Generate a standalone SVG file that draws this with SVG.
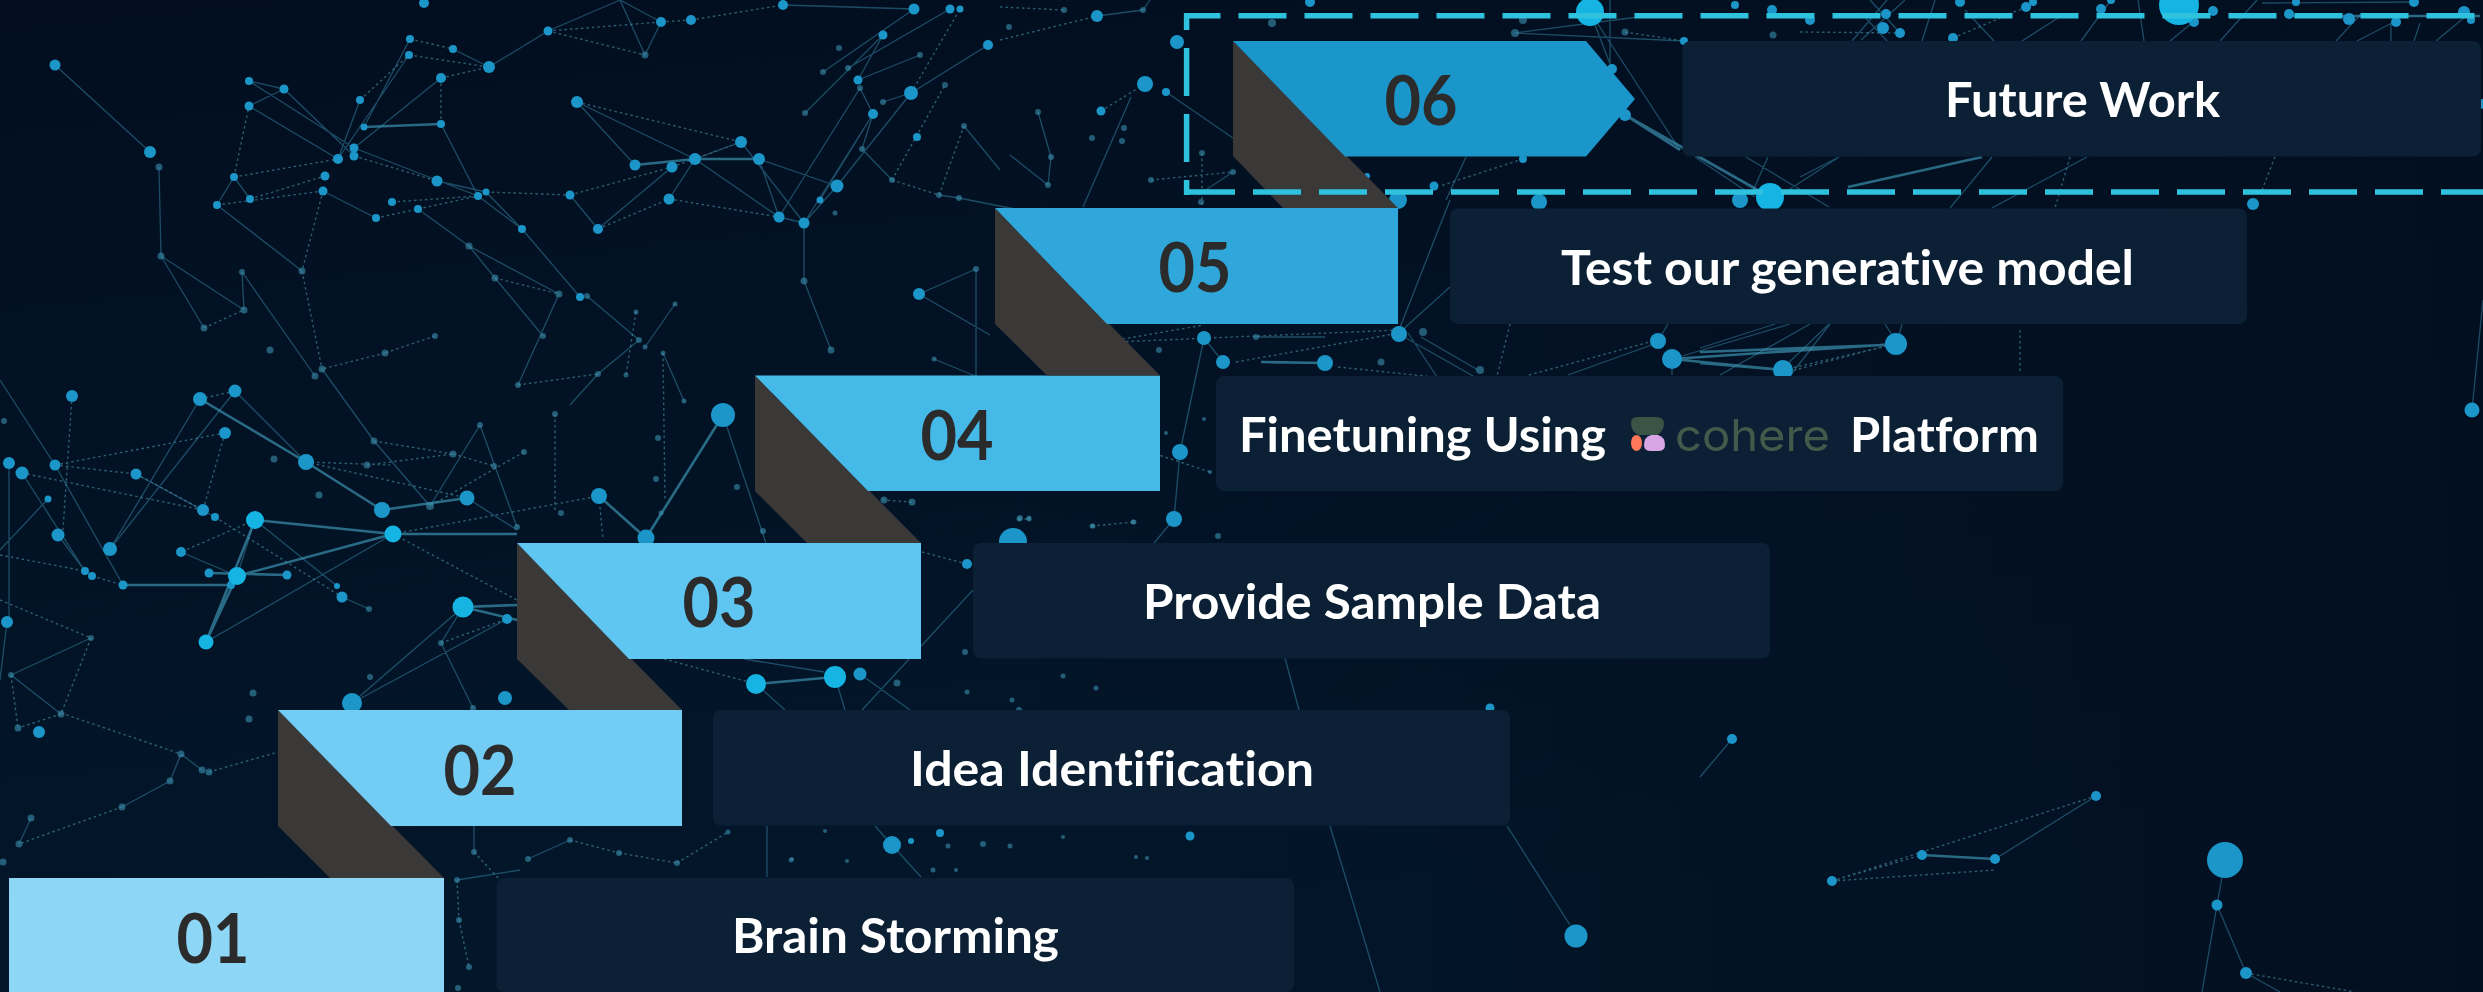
<svg xmlns="http://www.w3.org/2000/svg" width="2483" height="992" viewBox="0 0 2483 992">
<style>
.s{fill:none;stroke:#2f7593;stroke-width:1.3;opacity:.6}
.d{fill:none;stroke:#4f9db4;stroke-width:1.4;stroke-dasharray:2.5 3;opacity:.55}
.t{fill:none;stroke:#3f9ab8;stroke-width:2.6;opacity:.65}
.a circle{fill:#1a96c8}
.f circle{fill:#3c8fae;opacity:.6}
.b circle{fill:#12b4e2}
.fold{fill:#3b3838}
.box{fill:#0b2035}
.num{font:700 69px Lato,"Liberation Sans",sans-serif;fill:#2b2b2b;text-anchor:middle;font-variant-ligatures:none}
.lab{font:700 47px Lato,"Liberation Sans",sans-serif;fill:#fff;font-variant-ligatures:none}
.frame{fill:none;stroke:#2fc2de;stroke-width:5.5;stroke-dasharray:48 18}
</style>
<defs>
<linearGradient id="bg" x1="0" y1="0" x2="0.25" y2="1"><stop offset="0" stop-color="#020e20"/><stop offset="1" stop-color="#03172b"/></linearGradient>
<linearGradient id="bg2" x1="0" y1="0" x2="1" y2="0"><stop offset="0" stop-color="#020f21" stop-opacity="0"/><stop offset="1" stop-color="#020f20"/></linearGradient>
<filter id="soft" x="0" y="0" width="1" height="1"><feGaussianBlur stdDeviation="0.7"/></filter>
</defs>
<rect width="2483" height="992" fill="url(#bg)"/>
<rect x="1000" width="1483" height="992" fill="url(#bg2)"/>

<g id="connectors" filter="url(#soft)">
<path class="s" d="M55,65L150,152M159,167L161,256M161,256L204,328M161,256L244,310M242,272L244,310M242,272L315,376M217,205L302,271M250,199L234,177M234,177L217,205M249,106L284,89M249,81L284,89M249,81L354,148M249,106L338,159M284,89L354,156M338,159L360,100M338,159L409,55M354,148L441,78M364,127L410,39M453,49L489,67M489,67L548,31M661,22L645,55M548,31L620,0M620,0L661,22M620,0L645,55M783,5L914,9M441,124L478,196M354,148L478,196M323,191L376,218M418,209L469,246M437,181L486,192M478,196L522,229M486,192L522,229M522,229L580,297M469,246L559,294M469,246L495,278M495,278L543,336M559,294L518,385M587,296L639,340M322,369L374,441M570,195L598,229M598,229L672,167M669,199L695,159M577,102L635,165M577,102L695,159M695,159L779,217M779,217L804,223M759,159L779,217M759,159L837,186M741,142L804,223M804,223L804,281M804,281L831,350M804,223L873,114M779,217L860,88M820,200L873,114M837,186L911,93M804,223L837,186M805,113L883,35M823,72L914,9M848,68L950,9M858,80L883,35M858,80L920,55M860,88L873,114M883,102L911,93M911,93L988,45M862,149L892,180M862,149L873,114M964,126L1000,170M939,195L959,198M959,198L1020,210M919,294L976,269M919,294L990,335M976,269L976,380M934,359L985,380M639,340L598,374M675,304L645,347M598,374L570,405M663,353L684,401M0,380L55,465M235,391L306,462M200,399L110,549M235,391L110,549M374,441L430,506M480,425L430,506M480,425L517,527M723,415L775,570M467,498L517,530M393,534L206,642M255,520L237,576M181,552L237,576M136,474L215,517M22,473L85,571M55,465L123,585M58,535L85,571M9,463L9,620M48,499L0,550M342,597L369,609M255,520L337,586M7,622L0,680M91,638L11,675M11,675L61,714M352,703L463,607M352,703L507,619M463,607L441,643M441,643L473,708M181,754L202,770M181,754L170,781M170,781L122,807M31,818L19,844M528,859L570,840M474,826L474,852M457,880L520,870M767,826L767,877M744,659L824,672M860,674L910,710M756,684L785,710M835,677L845,710M862,710L973,590M1285,658L1299,710M1330,826L1380,992M1507,826L1570,925M875,826L892,845M892,845L921,877M1732,739L1700,777M2096,796L1995,859M2217,905L2202,992M2225,860L2217,905M2217,905L2246,973M2246,973L2280,992M2483,300L2472,410M1590,12L1612,69M1610,0L1610,69M1590,12L1680,150M1684,41L1515,33M1466,157L1446,200M1450,200L1399,330M1399,334L1480,380M1695,157L1755,197M1768,157L1752,193M1839,157L1784,193M1746,157L1829,207M1992,157L1950,208M2087,157L1992,208M1839,157L1800,177M1830,324L1790,376M1885,324L1897,343M1902,324L1897,343M1700,348L1775,324M1672,359L1790,324M1568,375L1657,343M1720,375L1810,324M1781,370L1829,324M1658,341L1668,324M1672,359L1672,375M1255,337L1325,337M1408,333L1437,377M1421,337L1478,370M1450,287L1399,333M1131,97L1083,207M1166,92L1233,138M1038,112L1051,157M1051,157L1048,185M1048,185L1010,155M1233,172L1198,195M1097,16L1143,10M1143,10L1150,0M1515,33L1638,17M1861,40L1905,0M1900,33L1870,0M1852,41L1887,0M1887,41L1861,13M1922,41L1935,0M1994,41L1965,10M2022,41L2061,16M2081,41L2111,0M2144,41L2138,0M2170,41L2192,23M2220,41L2257,0M2262,3L2414,2M2336,41L2362,13M2357,41L2392,23M2391,41L2391,23M2414,41L2420,23M2436,41L2466,16M1223,362L1204,338M1180,452L1174,519M1180,452L1204,338M1174,519L1140,560"/>
<path class="d" d="M204,328L244,310M217,205L323,191M250,199L325,176M234,177L338,159M234,177L249,106M323,191L302,271M302,271L322,369M360,100L409,55M409,55L489,67M410,39L453,49M441,78L441,124M441,78L489,67M548,31L661,22M548,31L645,55M661,22L691,20M691,20L783,5M354,156L437,181M376,218L418,209M392,202L478,196M418,209L478,196M486,192L570,195M495,278L559,294M435,336L385,353M385,353L322,369M570,195L672,167M598,229L669,199M577,102L741,142M695,159L741,142M672,167L741,142M669,199L779,217M911,93L960,9M892,180L945,85M892,180L939,195M939,195L964,126M636,312L626,375M518,385L598,374M663,353L665,500M555,414L555,510M72,396L63,530M200,399L235,391M225,433L203,510M225,433L55,465M306,462L467,498M306,462L390,465M374,441L453,454M367,465L453,454M453,454L494,466M524,452L430,506M393,534L599,496M599,496L603,540M393,534L517,600M255,520L181,552M136,474L203,510M55,465L136,474M22,473L203,510M92,576L123,585M215,517L342,597M0,600L91,638M91,638L61,714M11,675L18,728M61,714L18,728M0,555L85,571M441,643L507,619M61,713L181,754M122,807L19,844M209,772L278,752M474,852L500,880M570,840L619,853M619,853L677,863M677,863L728,832M457,880L459,920M459,920L469,967M664,659L756,684M922,552L967,564M882,500L912,502M1832,881L2096,796M1832,881L1922,855M1832,881L1995,870M2246,973L2355,992M1523,159L1440,186M1625,32L1684,41M2070,157L2055,208M2275,157L2262,190M1897,343L1795,370M2020,330L2020,373M1529,375L1657,340M1783,370L1896,344M1117,340L1204,325M1115,342L1399,330M1236,362L1399,333M1338,367L1434,377M1510,324L1497,376M1000,40L1097,16M1000,7L1064,10M1145,84L1101,111M1202,153L1202,205M1151,180L1233,172M1953,38L2026,7M1800,32L1900,33M1150,452L1210,472M1019,519L1029,519M1092,526L1134,522"/>
<path class="t" d="M364,127L441,124M635,165L695,159M695,159L759,159M200,399L306,462M306,462L382,510M382,510L467,498M255,520L393,534M393,534L517,534M599,496L646,538M646,538L723,415M393,534L237,576M209,573L287,575M123,585L231,585M237,576L206,642M255,520L206,642M463,607L517,605M463,607L517,620M756,684L835,677M1625,115L1770,197M1625,115L1680,150M1982,157L1848,187M1700,352L1885,345M1700,363L1785,370M1672,359L1896,344M1672,359L1783,370M1261,362L1325,363M1922,855L1995,859M2288,16L2480,16"/>
</g>

<g id="network-nodes" filter="url(#soft)">
<g class="f">
<circle cx="159" cy="167" r="3.5"/><circle cx="161" cy="256" r="3.5"/><circle cx="204" cy="328" r="3.5"/><circle cx="244" cy="310" r="3.5"/><circle cx="242" cy="272" r="3"/><circle cx="302" cy="271" r="3.5"/><circle cx="469" cy="246" r="3.5"/><circle cx="495" cy="278" r="3.5"/><circle cx="559" cy="294" r="3.5"/><circle cx="587" cy="296" r="3"/><circle cx="543" cy="336" r="3"/><circle cx="435" cy="336" r="3"/><circle cx="385" cy="353" r="3.5"/><circle cx="322" cy="369" r="3.5"/><circle cx="315" cy="376" r="3.5"/><circle cx="270" cy="350" r="3.5"/><circle cx="518" cy="385" r="3"/><circle cx="636" cy="312" r="2.5"/><circle cx="675" cy="304" r="2.5"/><circle cx="639" cy="340" r="3"/><circle cx="645" cy="347" r="2.5"/><circle cx="598" cy="374" r="3"/><circle cx="626" cy="375" r="2.5"/><circle cx="663" cy="353" r="2.5"/><circle cx="684" cy="401" r="2.5"/><circle cx="555" cy="414" r="3"/><circle cx="645" cy="55" r="3.5"/><circle cx="804" cy="281" r="3.5"/><circle cx="831" cy="350" r="3.5"/><circle cx="835" cy="213" r="2.5"/><circle cx="805" cy="113" r="3"/><circle cx="839" cy="48" r="3"/><circle cx="823" cy="72" r="3"/><circle cx="848" cy="68" r="3"/><circle cx="860" cy="88" r="3"/><circle cx="920" cy="55" r="3"/><circle cx="945" cy="85" r="3"/><circle cx="883" cy="102" r="3"/><circle cx="862" cy="149" r="3"/><circle cx="964" cy="126" r="3"/><circle cx="892" cy="180" r="3"/><circle cx="939" cy="195" r="3"/><circle cx="959" cy="198" r="3"/><circle cx="976" cy="269" r="3"/><circle cx="934" cy="359" r="2.5"/><circle cx="4" cy="421" r="3"/><circle cx="274" cy="459" r="3.5"/><circle cx="374" cy="441" r="3.5"/><circle cx="367" cy="465" r="3.5"/><circle cx="453" cy="454" r="3.5"/><circle cx="480" cy="425" r="3"/><circle cx="494" cy="466" r="3"/><circle cx="524" cy="452" r="3"/><circle cx="319" cy="495" r="3.5"/><circle cx="430" cy="506" r="4"/><circle cx="369" cy="609" r="3"/><circle cx="91" cy="638" r="3"/><circle cx="11" cy="675" r="3"/><circle cx="61" cy="714" r="3.5"/><circle cx="18" cy="728" r="3.5"/><circle cx="253" cy="693" r="3.5"/><circle cx="249" cy="719" r="3.5"/><circle cx="441" cy="643" r="3"/><circle cx="370" cy="677" r="3"/><circle cx="473" cy="708" r="3"/><circle cx="658" cy="438" r="3"/><circle cx="656" cy="479" r="3"/><circle cx="661" cy="513" r="2.5"/><circle cx="737" cy="487" r="3"/><circle cx="763" cy="531" r="3"/><circle cx="561" cy="513" r="3"/><circle cx="517" cy="527" r="3"/><circle cx="884" cy="500" r="3.5"/><circle cx="912" cy="502" r="3.5"/><circle cx="897" cy="683" r="3.5"/><circle cx="965" cy="652" r="3"/><circle cx="1020" cy="518" r="3"/><circle cx="1029" cy="518" r="2.5"/><circle cx="1093" cy="526" r="2.5"/><circle cx="1133" cy="522" r="2.5"/><circle cx="1063" cy="676" r="2.5"/><circle cx="1096" cy="688" r="2.5"/><circle cx="967" cy="692" r="2.5"/><circle cx="1012" cy="700" r="2.5"/><circle cx="1019" cy="710" r="3"/><circle cx="728" cy="832" r="2.5"/><circle cx="825" cy="831" r="2"/><circle cx="948" cy="846" r="2.5"/><circle cx="983" cy="844" r="3"/><circle cx="1010" cy="846" r="2.5"/><circle cx="1063" cy="837" r="2"/><circle cx="933" cy="870" r="2.5"/><circle cx="956" cy="870" r="2"/><circle cx="792" cy="859" r="2"/><circle cx="847" cy="861" r="2"/><circle cx="1136" cy="857" r="2"/><circle cx="1147" cy="858" r="2"/><circle cx="181" cy="754" r="3.5"/><circle cx="202" cy="770" r="3.5"/><circle cx="209" cy="772" r="3.5"/><circle cx="170" cy="781" r="3.5"/><circle cx="122" cy="807" r="3.5"/><circle cx="31" cy="818" r="3.5"/><circle cx="19" cy="844" r="3.5"/><circle cx="3" cy="862" r="3.5"/><circle cx="474" cy="852" r="3"/><circle cx="528" cy="859" r="3"/><circle cx="570" cy="840" r="3"/><circle cx="619" cy="853" r="3"/><circle cx="677" cy="863" r="3"/><circle cx="457" cy="880" r="3"/><circle cx="459" cy="920" r="3"/><circle cx="469" cy="967" r="3"/><circle cx="458" cy="988" r="3"/><circle cx="791" cy="860" r="2.5"/><circle cx="1064" cy="10" r="3"/><circle cx="1143" cy="10" r="3"/><circle cx="1009" cy="27" r="3"/><circle cx="1038" cy="112" r="3"/><circle cx="1124" cy="128" r="3"/><circle cx="1092" cy="138" r="3"/><circle cx="1122" cy="141" r="3"/><circle cx="1051" cy="157" r="3"/><circle cx="1048" cy="185" r="3"/><circle cx="1202" cy="153" r="3"/><circle cx="1233" cy="172" r="3"/><circle cx="1151" cy="180" r="3"/><circle cx="1201" cy="202" r="3"/><circle cx="1272" cy="23" r="4"/><circle cx="1523" cy="20" r="4"/><circle cx="1515" cy="33" r="4"/><circle cx="1625" cy="32" r="3.5"/><circle cx="1773" cy="35" r="3.5"/><circle cx="1256" cy="337" r="3"/><circle cx="1159" cy="350" r="3"/><circle cx="1381" cy="362" r="3.5"/><circle cx="1423" cy="332" r="4"/><circle cx="1480" cy="370" r="4"/><circle cx="1218" cy="536" r="3"/><circle cx="1210" cy="472" r="2"/><circle cx="1204" cy="419" r="2"/><circle cx="1166" cy="433" r="2"/><circle cx="1019" cy="519" r="2.5"/><circle cx="1029" cy="519" r="2.5"/><circle cx="1092" cy="526" r="2.5"/><circle cx="1134" cy="522" r="2.5"/>
</g>
<g class="a">
<circle cx="55" cy="65" r="5.5"/><circle cx="150" cy="152" r="6"/><circle cx="217" cy="205" r="4"/><circle cx="250" cy="199" r="4"/><circle cx="234" cy="177" r="4"/><circle cx="249" cy="106" r="4.5"/><circle cx="249" cy="81" r="4"/><circle cx="284" cy="89" r="4.5"/><circle cx="338" cy="159" r="5"/><circle cx="354" cy="148" r="4.5"/><circle cx="354" cy="156" r="4.5"/><circle cx="325" cy="176" r="4.5"/><circle cx="323" cy="191" r="4.5"/><circle cx="364" cy="127" r="3.5"/><circle cx="360" cy="100" r="4"/><circle cx="409" cy="55" r="4"/><circle cx="410" cy="39" r="4"/><circle cx="453" cy="49" r="4"/><circle cx="441" cy="78" r="5"/><circle cx="441" cy="124" r="4"/><circle cx="489" cy="67" r="6"/><circle cx="548" cy="31" r="4.5"/><circle cx="661" cy="22" r="5"/><circle cx="691" cy="20" r="5"/><circle cx="783" cy="5" r="5"/><circle cx="424" cy="3" r="5"/><circle cx="437" cy="181" r="5.5"/><circle cx="478" cy="196" r="4"/><circle cx="486" cy="192" r="3.5"/><circle cx="392" cy="202" r="4"/><circle cx="418" cy="209" r="4"/><circle cx="376" cy="218" r="4"/><circle cx="522" cy="229" r="4"/><circle cx="570" cy="195" r="4.5"/><circle cx="598" cy="229" r="5"/><circle cx="577" cy="102" r="6"/><circle cx="635" cy="165" r="5.5"/><circle cx="672" cy="167" r="5.5"/><circle cx="695" cy="159" r="6"/><circle cx="741" cy="142" r="6"/><circle cx="759" cy="159" r="6"/><circle cx="669" cy="199" r="5.5"/><circle cx="779" cy="217" r="5.5"/><circle cx="804" cy="223" r="5.5"/><circle cx="837" cy="186" r="6.5"/><circle cx="820" cy="200" r="3.5"/><circle cx="580" cy="297" r="4"/><circle cx="858" cy="80" r="4.5"/><circle cx="883" cy="35" r="4.5"/><circle cx="914" cy="9" r="5.5"/><circle cx="950" cy="9" r="4.5"/><circle cx="960" cy="9" r="3.5"/><circle cx="988" cy="45" r="5"/><circle cx="911" cy="93" r="7"/><circle cx="873" cy="114" r="5"/><circle cx="917" cy="137" r="4"/><circle cx="919" cy="294" r="6"/><circle cx="72" cy="396" r="6"/><circle cx="200" cy="399" r="7"/><circle cx="235" cy="391" r="6.5"/><circle cx="225" cy="433" r="6"/><circle cx="306" cy="462" r="8"/><circle cx="467" cy="498" r="7.5"/><circle cx="9" cy="463" r="6"/><circle cx="22" cy="473" r="6.5"/><circle cx="55" cy="465" r="5.5"/><circle cx="136" cy="474" r="5.5"/><circle cx="48" cy="499" r="3.5"/><circle cx="203" cy="510" r="6"/><circle cx="215" cy="517" r="4"/><circle cx="382" cy="510" r="8"/><circle cx="58" cy="535" r="6.5"/><circle cx="110" cy="549" r="7"/><circle cx="181" cy="552" r="5"/><circle cx="85" cy="571" r="4"/><circle cx="92" cy="576" r="4"/><circle cx="123" cy="585" r="4.5"/><circle cx="209" cy="573" r="4.5"/><circle cx="231" cy="585" r="4"/><circle cx="287" cy="575" r="4.5"/><circle cx="337" cy="586" r="3"/><circle cx="342" cy="597" r="5.5"/><circle cx="7" cy="622" r="6"/><circle cx="39" cy="732" r="6"/><circle cx="505" cy="698" r="7"/><circle cx="507" cy="619" r="5"/><circle cx="599" cy="496" r="8"/><circle cx="723" cy="415" r="12"/><circle cx="646" cy="538" r="8.5"/><circle cx="860" cy="674" r="6.5"/><circle cx="967" cy="564" r="5"/><circle cx="352" cy="703" r="10"/><circle cx="1490" cy="708" r="4.5"/><circle cx="1190" cy="836" r="4.5"/><circle cx="911" cy="841" r="3"/><circle cx="940" cy="833" r="4"/><circle cx="892" cy="845" r="9"/><circle cx="1576" cy="936" r="11.5"/><circle cx="1732" cy="739" r="5"/><circle cx="1832" cy="881" r="5"/><circle cx="1922" cy="855" r="5"/><circle cx="1995" cy="859" r="5"/><circle cx="2096" cy="796" r="5"/><circle cx="2225" cy="860" r="18"/><circle cx="2217" cy="905" r="5.5"/><circle cx="2246" cy="973" r="6"/><circle cx="2472" cy="410" r="7.5"/><circle cx="1097" cy="16" r="6"/><circle cx="1310" cy="2" r="5"/><circle cx="1177" cy="42" r="7"/><circle cx="1145" cy="84" r="8"/><circle cx="1166" cy="92" r="4"/><circle cx="1101" cy="111" r="4.5"/><circle cx="1367" cy="176" r="3"/><circle cx="1434" cy="186" r="4.5"/><circle cx="1398" cy="200" r="9"/><circle cx="1523" cy="159" r="4"/><circle cx="1539" cy="202" r="8"/><circle cx="1740" cy="200" r="8"/><circle cx="1612" cy="69" r="5"/><circle cx="1625" cy="115" r="6"/><circle cx="1684" cy="41" r="4"/><circle cx="1735" cy="5" r="4"/><circle cx="1810" cy="20" r="5"/><circle cx="1883" cy="28" r="6"/><circle cx="1900" cy="33" r="5"/><circle cx="1953" cy="38" r="5"/><circle cx="1886" cy="14" r="5"/><circle cx="1772" cy="10" r="5"/><circle cx="1960" cy="2" r="5"/><circle cx="2194" cy="22" r="5"/><circle cx="2213" cy="11" r="5"/><circle cx="2289" cy="14" r="5"/><circle cx="2296" cy="2" r="4"/><circle cx="2349" cy="19" r="6"/><circle cx="2396" cy="22" r="5"/><circle cx="2414" cy="2" r="5"/><circle cx="2464" cy="12" r="6"/><circle cx="2471" cy="20" r="4"/><circle cx="2481" cy="104" r="5"/><circle cx="2253" cy="204" r="6"/><circle cx="2026" cy="7" r="5"/><circle cx="2033" cy="2" r="4"/><circle cx="2101" cy="9" r="5"/><circle cx="2111" cy="0" r="4"/><circle cx="1204" cy="338" r="7"/><circle cx="1223" cy="362" r="7"/><circle cx="1325" cy="363" r="8"/><circle cx="1399" cy="334" r="8"/><circle cx="1658" cy="341" r="8"/><circle cx="1672" cy="359" r="10"/><circle cx="1783" cy="370" r="10"/><circle cx="1896" cy="344" r="11"/><circle cx="1180" cy="452" r="8"/><circle cx="1174" cy="519" r="8"/><circle cx="1013" cy="542" r="14"/>
</g>
<g class="b">
<circle cx="255" cy="520" r="9"/><circle cx="393" cy="534" r="8.5"/><circle cx="237" cy="576" r="9"/><circle cx="206" cy="642" r="7.5"/><circle cx="463" cy="607" r="10.5"/><circle cx="756" cy="684" r="10"/><circle cx="835" cy="677" r="11"/><circle cx="1770" cy="197" r="14"/><circle cx="1590" cy="12" r="14"/><circle cx="2179" cy="5" r="20"/>
</g>
</g>

<g id="step-01">
<rect class="box" x="496.500" y="878" width="797.500" height="114" rx="8"/>
<polygon points="9,878 444,878 444,992 9,992" fill="#8ed6f6"/>
<text class="num" x="213" y="962.500" textLength="73" lengthAdjust="spacingAndGlyphs">01</text>
<text class="lab" x="732" y="952.500" textLength="327" lengthAdjust="spacingAndGlyphs">Brain Storming</text>
</g>
<g id="step-02">
<rect class="box" x="713" y="710" width="797" height="115.500" rx="8"/>
<polygon class="fold" points="278,710 444,878 330,878 278,826"/>
<polygon points="278,710 682,710 682,826 391,826" fill="#72ccf3"/>
<text class="num" x="480" y="794.500" textLength="73" lengthAdjust="spacingAndGlyphs">02</text>
<text class="lab" x="910" y="785.500" textLength="404" lengthAdjust="spacingAndGlyphs">Idea Identification</text>
</g>
<g id="step-03">
<rect class="box" x="973" y="543" width="797" height="115.500" rx="8"/>
<polygon class="fold" points="517,543 682,710 569,710 517,659"/>
<polygon points="517,543 921,543 921,659 629,659" fill="#5fc6f2"/>
<text class="num" x="719" y="626.500" textLength="73" lengthAdjust="spacingAndGlyphs">03</text>
<text class="lab" x="1143" y="618.500" textLength="458" lengthAdjust="spacingAndGlyphs">Provide Sample Data</text>
</g>
<g id="step-04">
<rect class="box" x="1216" y="376" width="847" height="115" rx="8"/>
<polygon class="fold" points="755,375.500 921,543 807,543 755,491"/>
<polygon points="755,375.500 1160,375.500 1160,491 868,491" fill="#45bae9"/>
<text class="num" x="957" y="459.500" textLength="73" lengthAdjust="spacingAndGlyphs">04</text>
<text class="lab" x="1239" y="451.500" textLength="367" lengthAdjust="spacingAndGlyphs">Finetuning Using</text>
<path d="M1631,423q0,-6 7,-6h18q8,0 8,7q0,7 -7,11h-18q-8,-3 -8,-12z" fill="#3a5445"/>
<ellipse cx="1636.500" cy="443" rx="5.500" ry="8" fill="#ff7759"/>
<path d="M1644,445q0,-8 7,-10h7q7,2 7,10q0,6 -7,6h-7q-7,0 -7,-6z" fill="#d8a6e5"/>
<text x="1675" y="451" font-family="Inter,'Liberation Sans',sans-serif" font-size="44" fill="#435a4a" textLength="155" lengthAdjust="spacingAndGlyphs">cohere</text>
<text class="lab" x="1850" y="451.500" textLength="189" lengthAdjust="spacingAndGlyphs">Platform</text>
</g>
<g id="step-05">
<rect class="box" x="1450" y="208.500" width="797" height="115.500" rx="8"/>
<polygon class="fold" points="995,208 1160,375.500 1047,375.500 995,324"/>
<polygon points="995,208 1398,208 1398,324 1107,324" fill="#2fa7da"/>
<text class="num" x="1195" y="292" textLength="73" lengthAdjust="spacingAndGlyphs">05</text>
<text class="lab" x="1561" y="284.500" textLength="573" lengthAdjust="spacingAndGlyphs">Test our generative model</text>
</g>
<g id="step-06">
<rect class="box" x="1682.500" y="41" width="798.500" height="115.500" rx="8"/>
<polygon class="fold" points="1233,41 1398,208 1283,208 1233,156"/>
<polygon points="1233,41 1586,41 1635,99 1586,156.500 1345,156.500" fill="#1a96cb"/>
<text class="num" x="1421" y="125" textLength="73" lengthAdjust="spacingAndGlyphs">06</text>
<text class="lab" x="1945" y="117" textLength="275" lengthAdjust="spacingAndGlyphs">Future Work</text>
</g>
<g id="focus-frame">
<path class="frame" stroke-dashoffset="11.500" d="M1184,15.700H2483"/>
<path class="frame" d="M1187,192H2483"/>
<path class="frame" stroke-dashoffset="33" d="M1186.600,195V13"/>
</g>
</svg>
